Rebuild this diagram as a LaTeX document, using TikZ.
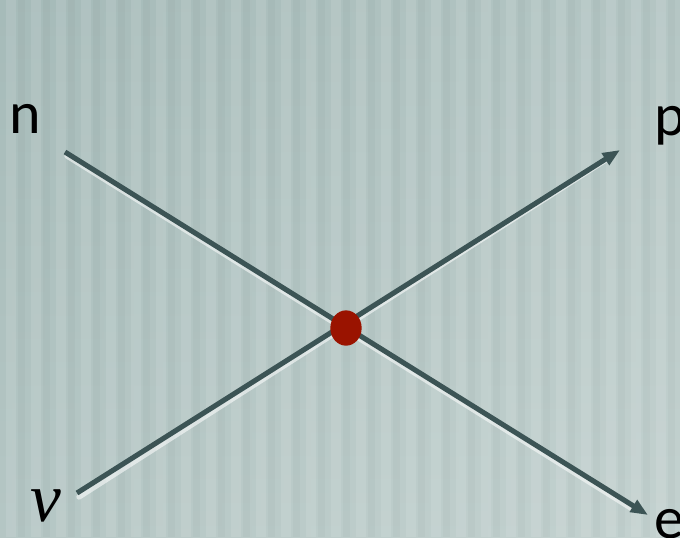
\documentclass[tikz,border=0pt]{standalone}
\usepackage{fontspec}
\setmainfont{Carlito}
\newfontfamily\greekserif{Liberation Serif}
\usetikzlibrary{arrows.meta,shapes.geometric}
\definecolor{bgA}{HTML}{A6BBB9}
\definecolor{bgB}{HTML}{C4D2D0}
\definecolor{linec}{HTML}{3C5455}
\definecolor{dotc}{HTML}{9A1300}
\tikzset{
  particle/.style={line width=3.8pt, draw=linec, line cap=butt},
  glow/.style={line width=4pt, draw=white, opacity=0.55, line cap=round},
  arrowline/.style={particle, -{Triangle[length=13pt,width=10pt]}},
  lbl/.style={inner sep=0pt, anchor=base west, font=\fontsize{45}{54}\selectfont},
}
\begin{document}
\begin{tikzpicture}[x=0.75pt,y=-0.75pt]
\useasboundingbox (0,0) rectangle (680,537);
% background gradient
\shade[left color=bgA, right color=bgB] (0,0) rectangle (680,537);
\path[top color=bgA, bottom color=bgB, opacity=0.5] (0,0) rectangle (680,537);
% stripes
\foreach \i in {0,...,27}{
  \fill[white, opacity=0.10] (\i*25+6,0) rectangle (\i*25+16,537);
  \fill[black, opacity=0.025] (\i*25+18,0) rectangle (\i*25+25,537);
}
% coordinates
\coordinate (nstart) at (65,152);
\coordinate (etip) at (648,515);
\coordinate (nustart) at (77,493);
\coordinate (ptip) at (620,150);
% glow (shadow)
\draw[glow] ([shift={(2,4)}]nstart) -- ([shift={(-14,-5)}]etip);
\draw[glow] ([shift={(2,4)}]nustart) -- ([shift={(-8,6)}]ptip);
% lines
\draw[arrowline] (nstart) -- (etip);
\draw[arrowline] (nustart) -- (ptip);
% vertex
\node[ellipse, fill=dotc, minimum width=23.5pt, minimum height=26.5pt, inner sep=0pt] (vertex) at (346,328) {};
% labels
\node[lbl] (n) at (9,133) {n};
\node[lbl] (p) at (654,135) {p};
\node[lbl] (e) at (654,538) {e};
\node[inner sep=0pt, anchor=base west, font=\fontsize{52}{60}\selectfont\greekserif\itshape] (nu) at (30,521) {ν};
\end{tikzpicture}
\end{document}
